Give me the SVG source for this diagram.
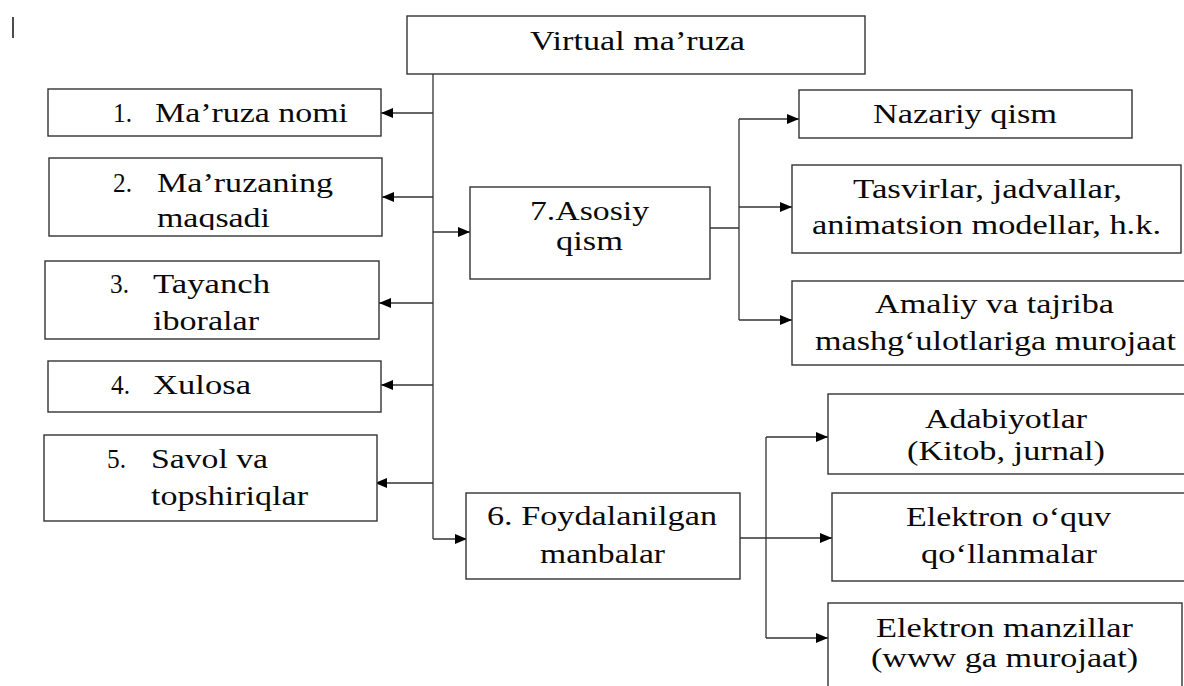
<svg xmlns="http://www.w3.org/2000/svg" width="1184" height="686" viewBox="0 0 1184 686">
<defs>
<style>
.box{fill:#fff;stroke:#333;stroke-width:1.4}
.t{font-family:"Liberation Serif","Times New Roman",serif;font-size:28px;fill:#0a0a0a}
.c{fill:none;stroke:#333;stroke-width:1.3}
.a{marker-end:url(#ah)}
</style>
<marker id="ah" markerUnits="userSpaceOnUse" markerWidth="13" markerHeight="11" refX="12" refY="5" orient="auto">
<path d="M0,0 L12,5 L0,10 z" fill="#000"/>
</marker>
<clipPath id="clip2"><rect x="49" y="158" width="333" height="72"/></clipPath>
</defs>
<rect width="1184" height="686" fill="#fff"/>
<line x1="13" y1="17" x2="13" y2="38" stroke="#111" stroke-width="1.5"/>

<g id="connectors">
<path class="c" d="M433,74 V539"/>
<path class="c a" d="M433,539 H467"/>
<path class="c a" d="M433,113 H381"/>
<path class="c a" d="M433,197 H382"/>
<path class="c a" d="M433,232 H470"/>
<path class="c a" d="M433,303 H379"/>
<path class="c a" d="M433,385 H381"/>
<path class="c a" d="M433,483 H375"/>
<path class="c" d="M710,228 H739 M739,119 V320"/>
<path class="c a" d="M739,119 H799"/>
<path class="c a" d="M739,207 H792"/>
<path class="c a" d="M739,320 H792"/>
<path class="c" d="M740,538 H766 M766,437 V638"/>
<path class="c a" d="M766,538 H832"/>
<path class="c a" d="M766,437 H828"/>
<path class="c a" d="M766,638 H828"/>
</g>

<g id="virtual">
<rect class="box" x="407" y="16" width="458" height="58"/>
<text class="t" x="530" y="50" textLength="215" lengthAdjust="spacingAndGlyphs">Virtual ma’ruza</text>
</g>

<g id="n1">
<rect class="box" x="48" y="89" width="333" height="47"/>
<text class="t" x="113" y="122" textLength="19" lengthAdjust="spacingAndGlyphs">1.</text>
<text class="t" x="155" y="122" textLength="193" lengthAdjust="spacingAndGlyphs">Ma’ruza nomi</text>
</g>

<g id="n2">
<rect class="box" x="49" y="158" width="333" height="78"/>
<text class="t" x="113" y="192" textLength="19" lengthAdjust="spacingAndGlyphs">2.</text>
<text class="t" x="157" y="192" textLength="176" lengthAdjust="spacingAndGlyphs">Ma’ruzaning</text>
<text class="t" x="157" y="227" textLength="113" lengthAdjust="spacingAndGlyphs" clip-path="url(#clip2)">maqsadi</text>
</g>

<g id="n3">
<rect class="box" x="45" y="261" width="334" height="78"/>
<text class="t" x="110" y="293" textLength="19" lengthAdjust="spacingAndGlyphs">3.</text>
<text class="t" x="153" y="293" textLength="117" lengthAdjust="spacingAndGlyphs">Tayanch</text>
<text class="t" x="153" y="330" textLength="106" lengthAdjust="spacingAndGlyphs">iboralar</text>
</g>

<g id="n4">
<rect class="box" x="48" y="361" width="333" height="51"/>
<text class="t" x="111" y="394" textLength="19" lengthAdjust="spacingAndGlyphs">4.</text>
<text class="t" x="153" y="394" textLength="98" lengthAdjust="spacingAndGlyphs">Xulosa</text>
</g>

<g id="n5">
<rect class="box" x="44" y="435" width="333" height="86"/>
<text class="t" x="107" y="468" textLength="19" lengthAdjust="spacingAndGlyphs">5.</text>
<text class="t" x="151" y="468" textLength="117" lengthAdjust="spacingAndGlyphs">Savol va</text>
<text class="t" x="151" y="505" textLength="157" lengthAdjust="spacingAndGlyphs">topshiriqlar</text>
</g>

<g id="n7">
<rect class="box" x="470" y="187" width="240" height="92"/>
<text class="t" x="530" y="220" textLength="119" lengthAdjust="spacingAndGlyphs">7.Asosiy</text>
<text class="t" x="556" y="250" textLength="67" lengthAdjust="spacingAndGlyphs">qism</text>
</g>

<g id="n6">
<rect class="box" x="466" y="493" width="274" height="86"/>
<text class="t" x="487" y="525" textLength="230" lengthAdjust="spacingAndGlyphs">6. Foydalanilgan</text>
<text class="t" x="540" y="563" textLength="125" lengthAdjust="spacingAndGlyphs">manbalar</text>
</g>

<g id="nazariy">
<rect class="box" x="799" y="90" width="333" height="48"/>
<text class="t" x="873" y="123" textLength="184" lengthAdjust="spacingAndGlyphs">Nazariy qism</text>
</g>

<g id="tasvirlar">
<rect class="box" x="792" y="165" width="389" height="88"/>
<text class="t" x="853" y="198" textLength="269" lengthAdjust="spacingAndGlyphs">Tasvirlar, jadvallar,</text>
<text class="t" x="812" y="234" textLength="349" lengthAdjust="spacingAndGlyphs">animatsion modellar, h.k.</text>
</g>

<g id="amaliy">
<rect class="box" x="792" y="281" width="400" height="84"/>
<text class="t" x="875" y="313" textLength="239" lengthAdjust="spacingAndGlyphs">Amaliy va tajriba</text>
<text class="t" x="815" y="350" textLength="361" lengthAdjust="spacingAndGlyphs">mashg‘ulotlariga murojaat</text>
</g>

<g id="adabiyotlar">
<rect class="box" x="828" y="394" width="364" height="80"/>
<text class="t" x="925" y="428" textLength="162" lengthAdjust="spacingAndGlyphs">Adabiyotlar</text>
<text class="t" x="907" y="460" textLength="198" lengthAdjust="spacingAndGlyphs">(Kitob, jurnal)</text>
</g>

<g id="elektron-oquv">
<rect class="box" x="832" y="493" width="360" height="88"/>
<text class="t" x="906" y="526" textLength="205" lengthAdjust="spacingAndGlyphs">Elektron o‘quv</text>
<text class="t" x="921" y="563" textLength="176" lengthAdjust="spacingAndGlyphs">qo‘llanmalar</text>
</g>

<g id="elektron-manzillar">
<rect class="box" x="828" y="603" width="354" height="90"/>
<text class="t" x="876" y="637" textLength="257" lengthAdjust="spacingAndGlyphs">Elektron manzillar</text>
<text class="t" x="871" y="667" textLength="267" lengthAdjust="spacingAndGlyphs">(www ga murojaat)</text>
</g>
</svg>
